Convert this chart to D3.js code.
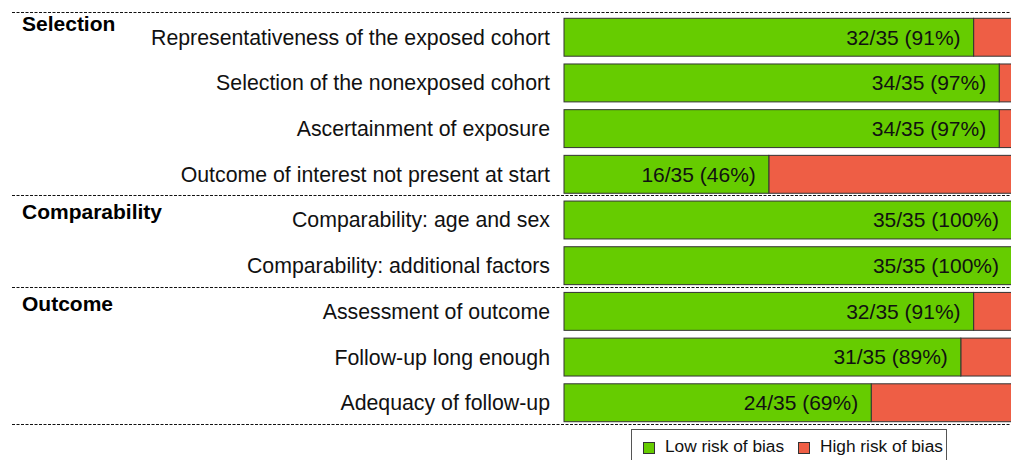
<!DOCTYPE html>
<html>
<head>
<meta charset="utf-8">
<script src="https://cdn.jsdelivr.net/npm/d3@7"></script>
<style>
  body { margin: 0; background: #fff; }
  text { font-family: "Liberation Sans", Arial, sans-serif; }
</style>
</head>
<body>
<div id="chart"></div>
<script>
var svgWidth = 1011;
var svgHeight = 460;

// data
var groups = ["Selection", "Comparability", "Outcome"];
var groupSizes = [4, 2, 3];
var items = [
  "Representativeness of the exposed cohort",
  "Selection of the nonexposed cohort",
  "Ascertainment of exposure",
  "Outcome of interest not present at start",
  "Comparability: age and sex",
  "Comparability: additional factors",
  "Assessment of outcome",
  "Follow-up long enough",
  "Adequacy of follow-up"
];
var lowRisk = [32, 34, 34, 16, 35, 35, 32, 31, 24];
var totals = [35, 35, 35, 35, 35, 35, 35, 35, 35];
var seriesNames = ["Low risk of bias", "High risk of bias"];
var seriesColors = ["#66cc00", "#ee5e45"];

var svg = d3.select("#chart")
  .append("svg")
  .attr("width", svgWidth)
  .attr("height", svgHeight);

var x = d3.scaleLinear()
  .domain([0, 35])
  .range([564, 1012]);

var y = d3.scaleBand()
  .domain(items)
  .range([16, 424])
  .paddingInner(0.17)
  .paddingOuter(0.05);

var bw = y.bandwidth();

var rows = items.map(function(d, i) {
  return { label: d, low: lowRisk[i], total: totals[i] };
});

// dashed separators
var groupStarts = [];
var groupEnds = [];
var acc = 0;
groupSizes.forEach(function(n) {
  groupStarts.push(items[acc]);
  groupEnds.push(items[acc + n - 1]);
  acc += n;
});

var sepY = [y(items[0]) - 6].concat(groupEnds.map(function(d) { return y(d) + bw + 2.2; }));

svg.selectAll("line.sep")
  .data(sepY)
  .enter()
  .append("line")
  .attr("class", "sep")
  .attr("x1", 12)
  .attr("x2", svgWidth)
  .attr("y1", d => Math.round(d) + 0.5)
  .attr("y2", d => Math.round(d) + 0.5)
  .attr("stroke", "#111")
  .attr("stroke-width", 1)
  .attr("stroke-dasharray", "3,1.5");

// group headers
var headerDy = [-6, -1, 0];
svg.selectAll("text.group")
  .data(groups)
  .enter()
  .append("text")
  .attr("class", "group")
  .attr("x", 22)
  .attr("y", (d, i) => y(groupStarts[i]) + bw / 2 + headerDy[i])
  .attr("font-size", "21px")
  .attr("font-weight", "bold")
  .attr("fill", "#000")
  .text(d => d);

// item labels
svg.selectAll("text.item")
  .data(rows)
  .enter()
  .append("text")
  .attr("class", "item")
  .attr("x", 550)
  .attr("y", d => y(d.label) + bw / 2)
  .attr("dy", "0.35em")
  .attr("text-anchor", "end")
  .attr("font-size", "21.3px")
  .attr("fill", "#111")
  .text(d => d.label);

// high risk (full bar underneath)
svg.selectAll("rect.high")
  .data(rows)
  .enter()
  .append("rect")
  .attr("class", "high")
  .attr("x", d => x(d.low))
  .attr("y", d => y(d.label))
  .attr("width", d => x(d.total) - x(d.low))
  .attr("height", bw)
  .attr("fill", seriesColors[1])
  .attr("stroke", "#333")
  .attr("stroke-width", 1);

// low risk
svg.selectAll("rect.low")
  .data(rows)
  .enter()
  .append("rect")
  .attr("class", "low")
  .attr("x", x(0))
  .attr("y", d => y(d.label))
  .attr("width", d => x(d.low) - x(0))
  .attr("height", bw)
  .attr("fill", seriesColors[0])
  .attr("stroke", "#333")
  .attr("stroke-width", 1);

// value labels
svg.selectAll("text.value")
  .data(rows)
  .enter()
  .append("text")
  .attr("class", "value")
  .attr("x", d => x(d.low) - 13)
  .attr("y", d => y(d.label) + bw / 2)
  .attr("dy", "0.35em")
  .attr("text-anchor", "end")
  .attr("font-size", "21px")
  .attr("fill", "#111")
  .text(d => d.low + "/" + d.total + " (" + Math.round(100 * d.low / d.total) + "%)");

// legend
var legend = svg.append("g")
  .attr("transform", "translate(631, 429)");

legend.append("rect")
  .attr("x", 0.5)
  .attr("y", 0.5)
  .attr("width", 315)
  .attr("height", 40)
  .attr("fill", "#fff")
  .attr("stroke", "#555")
  .attr("stroke-width", 1);

var legendX = [12, 167];
var items2 = legend.selectAll("g.key")
  .data(seriesNames)
  .enter()
  .append("g")
  .attr("class", "key")
  .attr("transform", (d, i) => `translate(${legendX[i]}, 0)`);

items2.append("rect")
  .attr("x", 0.5)
  .attr("y", 13.5)
  .attr("width", 11)
  .attr("height", 11)
  .attr("fill", (d, i) => seriesColors[i])
  .attr("stroke", "#333")
  .attr("stroke-width", 1);

items2.append("text")
  .attr("x", 22)
  .attr("y", 23)
  .attr("font-size", "17.3px")
  .attr("fill", "#111")
  .text(d => d);
</script>
</body>
</html>
